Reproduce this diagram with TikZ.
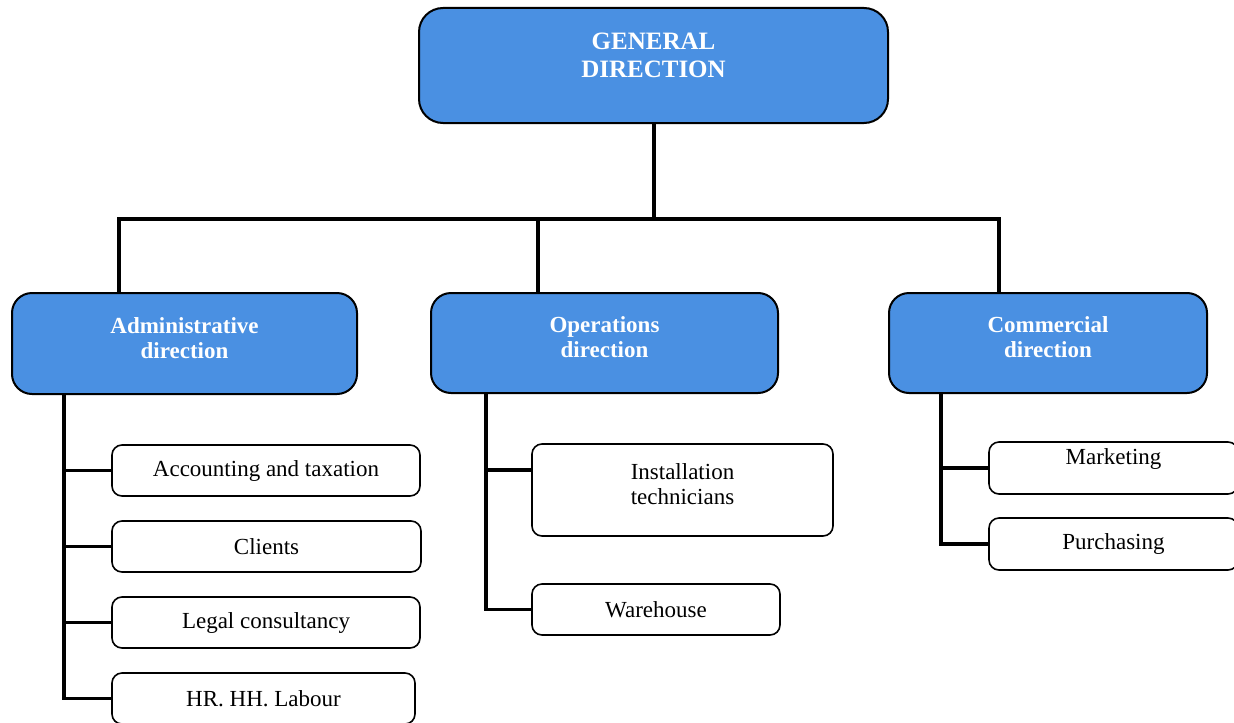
\documentclass[tikz,border=0pt]{standalone}
\usepackage{fontspec}
\setmainfont{Liberation Serif}
\usepackage{tikz}
\usetikzlibrary{positioning}

\definecolor{dirblue}{RGB}{74,144,226}

\begin{document}
\begin{tikzpicture}[x=0.5pt,y=-0.5pt,
    dirbox/.style={draw=black,line width=1pt,fill=dirblue,rounded corners=10pt,
      text=white,font=\bfseries\fontsize{11.5}{12.5}\selectfont,align=center,
      inner sep=0pt,minimum height=50pt},
    unitbox/.style={draw=black,line width=0.8pt,fill=white,rounded corners=5pt,
      font=\fontsize{11.5}{12.5}\selectfont,align=center,inner sep=0pt,
      minimum height=25.5pt},
    lift/.style={text depth=#1},
    conn/.style={line width=1.9pt}]

  \useasboundingbox (0,0) rectangle (1234,722);
  \clip (0,0) rectangle (1234,722);

  % top
  \node[dirbox,minimum width=234.5pt,minimum height=57.5pt,rounded corners=12pt,
        font=\bfseries\fontsize{12.5}{14}\selectfont,lift=10pt]
                          (gen) at (653.5,65.5) {GENERAL\\DIRECTION};

  % directions
  \node[dirbox,minimum width=172.5pt,minimum height=50.5pt,lift=5pt]
                          (adm) at (184.5,343.5) {Administrative\\direction};
  \node[dirbox,minimum width=173.5pt,lift=6pt]
                          (ops) at (604.5,343)   {Operations\\direction};
  \node[dirbox,minimum width=159pt,lift=6pt]
                          (com) at (1048,343)    {Commercial\\direction};

  % administrative units
  \node[unitbox,minimum width=154pt]   (acc) at (266,470.5)   {Accounting and taxation};
  \node[unitbox,minimum width=154.5pt] (cli) at (266.5,546.5) {Clients};
  \node[unitbox,minimum width=154pt]   (leg) at (266,622.5)   {Legal consultancy};
  \node[unitbox,minimum width=151.5pt] (hr)  at (263.5,698.5) {HR. HH. Labour};

  % operations units
  \node[unitbox,minimum width=150.5pt,minimum height=46pt,lift=6pt]
                                       (ins) at (682.5,490)   {Installation\\technicians};
  \node[unitbox,minimum width=124pt]   (war) at (656,609.5)   {Warehouse};

  % commercial units
  \node[unitbox,minimum width=124.5pt,minimum height=26pt,lift=11pt]
                                       (mkt) at (1113.5,468)  {Marketing};
  \node[unitbox,minimum width=124.5pt,minimum height=26pt]
                                       (pur) at (1113.5,544)  {Purchasing};

  % bus under the general direction
  \coordinate (bus)  at (654,219);
  \coordinate (busL) at (119,219);
  \coordinate (busM) at (538,219);
  \coordinate (busR) at (999,219);
  \draw[conn] (gen.south -| bus) -- (bus);
  \draw[conn] (busL |- adm.north) -- (busL) -- (busR) -- (busR |- com.north);
  \draw[conn] (busM) -- (busM |- ops.north);

  % trunks to the units
  \coordinate (admx) at (64,0);
  \coordinate (opsx) at (486,0);
  \coordinate (comx) at (941,0);
  \draw[conn] (adm.south -| admx) |- (hr.west);
  \foreach \u in {acc,cli,leg}
    \draw[conn] (\u.west) -- (\u.west -| admx);
  \draw[conn] (ops.south -| opsx) |- (war.west);
  \draw[conn] (ins.west |- 0,470) -- (opsx |- 0,470);
  \draw[conn] (com.south -| comx) |- (pur.west);
  \draw[conn] (mkt.west) -- (mkt.west -| comx);
\end{tikzpicture}
\end{document}
